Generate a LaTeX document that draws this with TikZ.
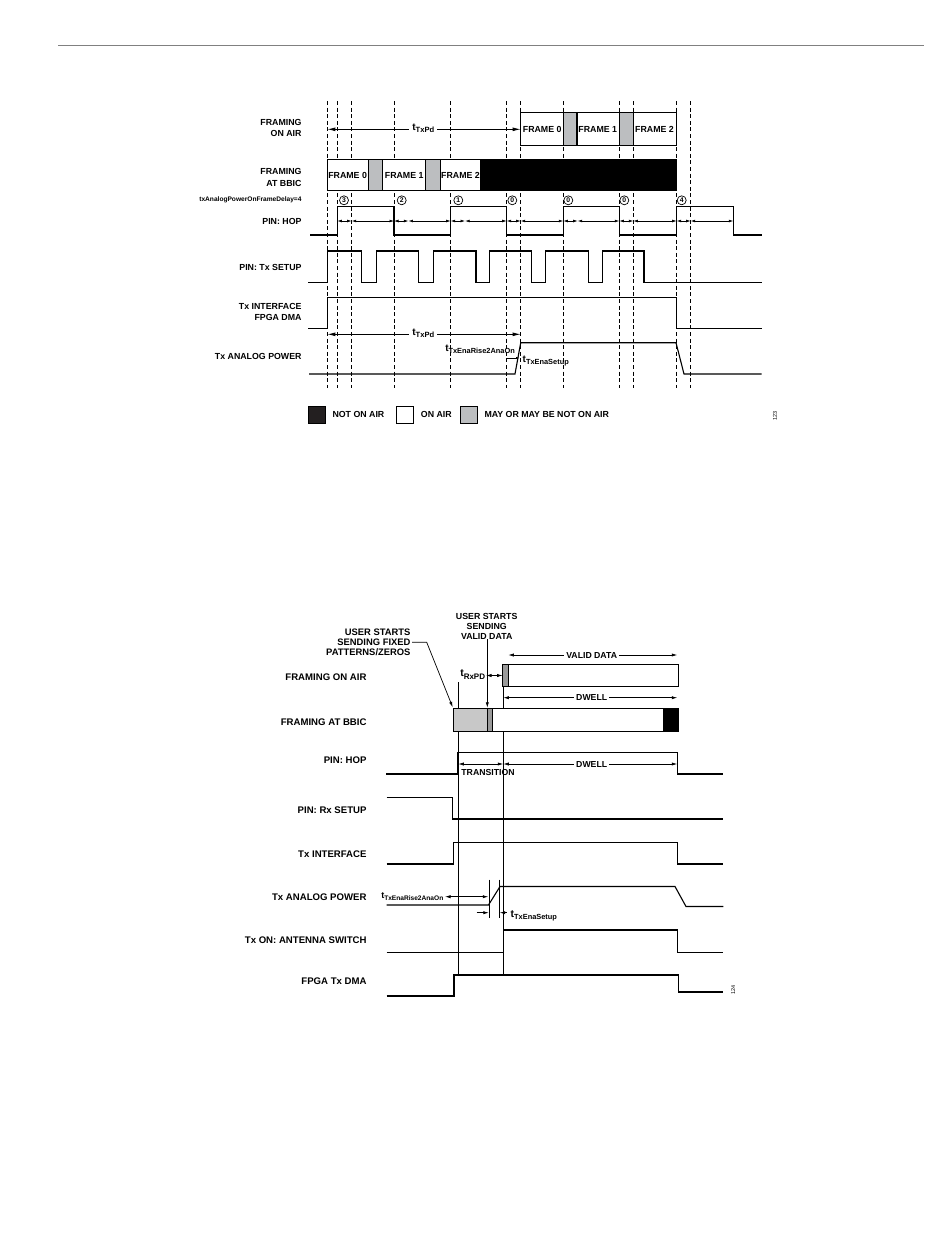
\documentclass[tikz,border=0pt]{standalone}
\usepackage{fontspec}
\setmainfont{Liberation Sans}
\usetikzlibrary{arrows.meta}
\newcommand\fsz[1]{\fontsize{#1}{#1}\selectfont}
\newcommand\tsub[2]{t\raisebox{-0.22em}{\fontsize{#1}{#1}\selectfont #2}}
\definecolor{legblack}{HTML}{231F20}
\definecolor{leggray}{HTML}{BCBEC0}
\definecolor{ltgray}{HTML}{C8C8C8}
\definecolor{dkgray}{HTML}{9A9A9A}
\begin{document}
\begin{tikzpicture}[x=1pt,y=-1pt,
  every node/.style={inner sep=0pt},
  lblT/.style={anchor=east, align=right, font=\bfseries\fontsize{8.8}{11.8}\selectfont},
  lblB/.style={anchor=east, align=right, font=\bfseries\fontsize{9.6}{11}\selectfont},
  sig/.style={line width=1.1pt, line join=miter},
  vdash/.style={dash pattern=on 4pt off 2.6pt, line width=0.85pt},
  vline/.style={line width=0.85pt},
  dimS/.style={line width=0.6pt, {Latex[length=4.5pt,width=2.8pt]}-{Latex[length=4.5pt,width=2.8pt]}},
  dimM/.style={line width=0.7pt, {Latex[length=5.5pt,width=3.2pt]}-{Latex[length=5.5pt,width=3.2pt]}},
  dimL/.style={line width=0.8pt, {Latex[length=8pt,width=3.8pt]}-{Latex[length=8pt,width=3.8pt]}},
  arrM/.style={line width=0.7pt, -{Latex[length=5.5pt,width=3.2pt]}},
  frm/.style={font=\bfseries\fontsize{8.8}{10}\selectfont},
  inl/.style={font=\bfseries\fontsize{8.7}{10}\selectfont, fill=white, inner xsep=2pt},
  cnum/.style={circle, draw, line width=0.7pt, minimum size=9pt, font=\bfseries\fontsize{6.8}{6.8}\selectfont},
  box/.style={draw, line width=1pt},
  fig/.style={font=\fontsize{5.5}{5.5}\selectfont, rotate=90},
]
\useasboundingbox (0,0) rectangle (950,1248);
\fill[white] (0,0) rectangle (950,1248);

% page rule
\draw[gray, line width=0.8pt] (58,45) -- (924,45);

% ================= TOP DIAGRAM =================
\foreach \x in {327.3,337.3,351.7,394,450.7,506.7,520.7,563.3,619.3,633.3,676.7,690.7}
  \draw[vdash] (\x,101) -- (\x,388);

% labels
\node[lblT] (tl1) at (301.7,128) {FRAMING\\ON AIR};
\node[lblT] (tl2) at (301.7,177.5) {FRAMING\\AT BBIC};
\node[anchor=east, font=\bfseries\fontsize{6.6}{7}\selectfont] (tl3) at (301.7,199.6) {txAnalogPowerOnFrameDelay=4};
\node[lblT] (tl4) at (301.7,221.7) {PIN: HOP};
\node[lblT] (tl5) at (301.7,267.3) {PIN: Tx SETUP};
\node[lblT] (tl6) at (301.7,312) {Tx INTERFACE\\FPGA DMA};
\node[lblT] (tl7) at (301.7,356.7) {Tx ANALOG POWER};

% framing on air
\draw[box, fill=white] (520.7,112.7) rectangle (676.7,145);
\draw[box, fill=leggray] (563.3,112.7) rectangle (576.7,145);
\draw[box, fill=leggray] (619.3,112.7) rectangle (633.3,145);
\draw[line width=1.6pt] (576.7,112.7) -- (576.7,145);
\node[frm] (oa0) at (542.2,129) {FRAME 0};
\node[frm] (oa1) at (597.8,129) {FRAME 1};
\node[frm] (oa2) at (654.5,129) {FRAME 2};

% framing at BBIC
\draw[box, fill=white] (327.3,159) rectangle (676.7,190.7);
\draw[box, fill=leggray] (368.3,159) rectangle (382.7,190.7);
\draw[box, fill=leggray] (425.7,159) rectangle (440,190.7);
\draw[box, fill=black] (480.7,159) rectangle (676.7,190.7);
\node[frm] (bb0) at (347.6,175) {FRAME 0};
\node[frm] (bb1) at (404.2,175) {FRAME 1};
\node[frm] (bb2) at (460.5,175) {FRAME 2};

% tTxPd arrows
\coordinate (pdA) at (327.3,129.3);
\coordinate (pdB) at (520.7,129.3);
\draw[dimL] (pdA) -- (pdB);
\node[fill=white, inner xsep=3pt, inner ysep=1pt, font=\bfseries\fontsize{10}{10}\selectfont] (pd1) at (423.3,128.5) {\tsub{7.6}{TxPd}};

% circled numbers
\node[cnum] (c3) at (344,200.3) {3};
\node[cnum] (c2) at (401.7,200.3) {2};
\node[cnum] (c1) at (458.3,200.3) {1};
\node[cnum] (c0a) at (512.3,200.3) {0};
\node[cnum] (c0b) at (568.3,200.3) {0};
\node[cnum] (c0c) at (624.3,200.3) {0};
\node[cnum] (c4) at (681.7,200.3) {4};

% HOP signal
\draw[sig] (310,235) -- (337.3,235) -- (337.3,206.7) -- (394,206.7) -- (394,235) -- (450.7,235)
  -- (450.7,206.7) -- (506.7,206.7) -- (506.7,235) -- (563.3,235) -- (563.3,206.7) -- (619.3,206.7)
  -- (619.3,235) -- (676.7,235) -- (676.7,206.7) -- (733.3,206.7) -- (733.3,235) -- (761.7,235);
\foreach \a/\b in {337.3/351.7, 351.7/394, 394/408.4, 408.4/450.7, 450.7/465.1, 465.1/506.7,
  506.7/520.7, 520.7/563.3, 563.3/577.7, 577.7/619.3, 619.3/633.3, 633.3/676.7, 676.7/690.7, 690.7/733.3}
  \draw[dimS] (\a,221) -- (\b,221);

% Tx SETUP
\draw[sig] (308.3,282.3) -- (327.3,282.3) -- (327.3,251) -- (361.7,251) -- (361.7,282.3) -- (376.7,282.3)
  -- (376.7,251) -- (418.3,251) -- (418.3,282.3) -- (433.3,282.3) -- (433.3,251) -- (476,251)
  -- (476,282.3) -- (489.3,282.3) -- (489.3,251) -- (531.7,251) -- (531.7,282.3) -- (545.7,282.3)
  -- (545.7,251) -- (588.3,251) -- (588.3,282.3) -- (602.7,282.3) -- (602.7,251) -- (644,251)
  -- (644,282.3) -- (761.7,282.3);

% Tx interface FPGA DMA
\draw[sig] (308.3,328.3) -- (327.3,328.3) -- (327.3,297.7) -- (676.7,297.7) -- (676.7,328.3) -- (761.7,328.3);

% Tx analog power
\draw[sig] (309,374) -- (515,374) -- (520.7,342.7) -- (676,342.7) -- (684,374) -- (761.7,374);

% lower tTxPd
\coordinate (pdC) at (327.3,334.3);
\coordinate (pdD) at (520.7,334.3);
\draw[dimL] (pdC) -- (pdD);
\node[fill=white, inner xsep=3pt, inner ysep=1pt, font=\bfseries\fontsize{10}{10}\selectfont] (pd2) at (423.3,333.5) {\tsub{7.6}{TxPd}};

\node[anchor=east, font=\bfseries\fontsize{10}{10}\selectfont] (ra1) at (515,349) {\tsub{7.4}{TxEnaRise2AnaOn}};
\coordinate (esA) at (507,358);
\coordinate (esB) at (519.5,358);
\draw[line width=0.5pt, -{Latex[length=3.5pt,width=2.2pt]}] (esA) -- (esB);
\node[anchor=west, font=\bfseries\fontsize{10}{10}\selectfont] (es1) at (522.5,361) {\tsub{7.4}{TxEnaSetup}};

% legend
\draw[fill=legblack, line width=0.6pt] (308.3,406) rectangle (325.7,423.3);
\node[anchor=west, frm] (lg1) at (332.3,414.7) {NOT ON AIR};
\draw[fill=white, line width=0.6pt] (396.7,406) rectangle (413.3,423.3);
\node[anchor=west, frm] (lg2) at (420.7,414.7) {ON AIR};
\draw[fill=leggray, line width=0.6pt] (460.7,406) rectangle (477.3,423.3);
\node[anchor=west, frm] (lg3) at (484.3,414.7) {MAY OR MAY BE NOT ON AIR};
\node[fig] (f123) at (775,416) {123};

% ================= BOTTOM DIAGRAM =================
\node[lblB] (bl1) at (366.7,677.3) {FRAMING ON AIR};
\node[lblB] (bl2) at (366.7,722.3) {FRAMING AT BBIC};
\node[lblB] (bl3) at (366.7,760.5) {PIN: HOP};
\node[lblB] (bl4) at (366.7,810) {PIN: Rx SETUP};
\node[lblB] (bl5) at (366.7,854) {Tx INTERFACE};
\node[lblB] (bl6) at (366.7,896.7) {Tx ANALOG POWER};
\node[lblB] (bl7) at (366.7,940) {Tx ON: ANTENNA SWITCH};
\node[lblB] (bl8) at (366.7,981) {FPGA Tx DMA};

% annotations
\node[anchor=east, align=right, font=\bfseries\fontsize{9.4}{10}\selectfont] (us1) at (410.7,642.3) {USER STARTS\\SENDING FIXED\\PATTERNS/ZEROS};
\node[align=center, font=\bfseries\fontsize{8.8}{10}\selectfont] (us2) at (486.7,626) {USER STARTS\\SENDING\\VALID DATA};

% vertical reference lines
\draw[vline] (458.3,682) -- (458.3,975);
\draw[vline] (503.3,664.3) -- (503.3,975);

% framing on air box
\draw[box, fill=white] (502.7,664.3) rectangle (678.3,686);
\draw[line width=0.6pt, fill=dkgray] (502.7,664.3) rectangle (508.3,686);
\draw[box] (502.7,664.3) rectangle (678.3,686);

% framing at BBIC box
\draw[box, fill=white] (453.3,708.3) rectangle (678.3,731);
\fill[ltgray] (453.3,708.3) rectangle (487.3,731);
\fill[dkgray] (487.3,708.3) rectangle (492.3,731);
\fill[black] (662.7,708.3) rectangle (678.3,731);
\draw[line width=0.6pt] (487.3,708.3) -- (487.3,731) (492.3,708.3) -- (492.3,731);
\draw[box] (453.3,708.3) rectangle (678.3,731);

% leader arrows
\coordinate (ldA) at (412,642.3);
\coordinate (ldB) at (426.7,642.3);
\coordinate (ldC) at (452.7,707.3);
\draw[arrM] (ldA) -- (ldB) -- (ldC);
\coordinate (vdA) at (487.3,639);
\coordinate (vdB) at (487.3,707.8);
\draw[arrM] (vdA) -- (vdB);

% tRxPD
\node[anchor=east, font=\bfseries\fontsize{10.5}{10}\selectfont] (rx1) at (485.3,674.5) {\tsub{8}{RxPD}};
\coordinate (rxA) at (486,675.5);
\coordinate (rxB) at (502.7,675.5);
\draw[dimM] (rxA) -- (rxB);

% valid data / dwell
\coordinate (vaA) at (508.3,655);
\coordinate (vaB) at (677.3,655);
\draw[dimM] (vaA) -- (vaB);
\node[inl] (va1) at (591.7,655) {VALID DATA};
\coordinate (dwA) at (503.3,697.7);
\coordinate (dwB) at (677.3,697.7);
\draw[dimM] (dwA) -- (dwB);
\node[inl] (dw1) at (591.7,697.7) {DWELL};

% HOP
\draw[sig] (386,774) -- (457.3,774) -- (457.3,752.7) -- (677.3,752.7) -- (677.3,774) -- (722.7,774);
\coordinate (trA) at (458.3,764);
\coordinate (trB) at (503.3,764);
\draw[dimM] (trA) -- (trB);
\coordinate (dhA) at (503.3,764);
\coordinate (dhB) at (677.3,764);
\draw[dimM] (dhA) -- (dhB);
\node[inl] (dw2) at (591.7,764) {DWELL};
\node[anchor=west, font=\bfseries\fontsize{8.7}{10}\selectfont] (tr1) at (461.2,772.7) {TRANSITION};

% Rx SETUP
\draw[sig] (386.7,797.3) -- (452.7,797.3) -- (452.7,819) -- (722.7,819);
% Tx INTERFACE
\draw[sig] (386.7,864) -- (453.3,864) -- (453.3,842.5) -- (677.7,842.5) -- (677.7,864) -- (723.3,864);
% Tx ANALOG POWER
\draw[sig] (386.7,905) -- (488.5,905) -- (500,886.5) -- (675,886.5) -- (686,906.5) -- (723.3,906.5);
\draw[line width=0.6pt] (488.8,879.5) -- (488.8,918) (499.7,879.5) -- (499.7,918);
\node[anchor=east, font=\bfseries\fontsize{9}{9}\selectfont] (ra2) at (443.5,896.5) {\tsub{6.6}{TxEnaRise2AnaOn}};
\coordinate (raA) at (445,896.7);
\coordinate (raB) at (488.3,896.7);
\draw[dimM] (raA) -- (raB);
\coordinate (seA) at (476.7,912.7);
\coordinate (seB) at (488.8,912.7);
\coordinate (seC) at (506.7,912.7);
\coordinate (seD) at (499.7,912.7);
\draw[arrM] (seA) -- (seB);
\draw[arrM] (seC) -- (seD);
\node[anchor=west, font=\bfseries\fontsize{10.5}{10}\selectfont] (se1) at (510.5,915.5) {\tsub{7.4}{TxEnaSetup}};
% Tx ON
\draw[sig] (386.7,952.7) -- (503.3,952.7) -- (503.3,930) -- (677.7,930) -- (677.7,952.7) -- (723.3,952.7);
% FPGA Tx DMA
\draw[sig] (386.7,996) -- (454,996) -- (454,975) -- (678.3,975) -- (678.3,992) -- (723.3,992);
\node[fig] (f124) at (733.3,990) {124};

\end{tikzpicture}
\end{document}
